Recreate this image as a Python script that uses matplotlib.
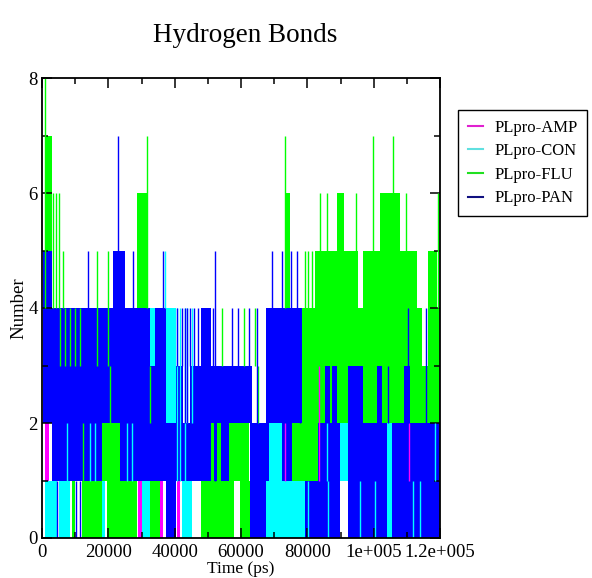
import matplotlib
matplotlib.use('Agg')
from matplotlib import pyplot as plt
from matplotlib.lines import Line2D
from matplotlib.ticker import MultipleLocator

plt.rcParams['font.family'] = ['Liberation Serif', 'DejaVu Serif']

# Bands where a trajectory flickers between two hydrogen-bond counts (time in ps)
# start, end, low, high
amp_start = [1000, 29000, 35600, 40700]
amp_end = [2000, 30000, 36600, 41700]
amp_low = [1, 0, 0, 0]
amp_high = [2, 1, 1, 1]

con_start = [1000, 5000, 18000, 30200, 32600, 37500, 42200, 67400, 68300, 78000, 89800, 104000]
con_end = [4400, 8400, 19000, 32600, 34100, 40500, 45200, 79400, 72400, 79400, 92200, 105500]
con_low = [0, 0, 0, 0, 3, 2, 0, 0, 1, 1, 1, 0]
con_high = [1, 1, 1, 1, 4, 4, 1, 1, 2, 2, 2, 2]

flu_start = [900, 28600, 9000, 12000, 19500, 32600, 18000, 48000, 59800, 50300, 52800, 56300,
             75400, 73300, 78400, 83300, 114600, 116400, 82300, 96800, 116400, 89000, 102000]
flu_end = [3000, 31600, 10000, 18000, 28500, 35600, 23500, 58000, 62700, 51800, 54300, 62300,
           78400, 74800, 83300, 114600, 116400, 120000, 95300, 113000, 119000, 91000, 108000]
flu_low = [4, 4, 0, 0, 0, 0, 1, 0, 0, 1, 1, 1, 1, 4, 1, 2, 2, 2, 4, 4, 4, 5, 5]
flu_high = [7, 6, 1, 1, 1, 1, 2, 1, 1, 2, 2, 2, 2, 6, 4, 4, 3, 4, 5, 5, 5, 6, 6]

pan_start = [300, 3000, 18000, 21400, 23500, 32600, 34100, 37500, 40500, 42600, 44600, 48000,
             51100, 51800, 54000, 56300, 62700, 62700, 67400, 68300, 72400, 75400, 79400, 83300,
             92200, 105500, 85300, 87300, 92400, 100900, 109000]
pan_end = [3000, 18000, 23500, 25000, 32600, 34100, 37500, 40500, 42600, 44600, 48000, 51100,
           54000, 52800, 56300, 62700, 67400, 63400, 68300, 72400, 75400, 78400, 83300, 89800,
           104000, 120000, 86800, 88800, 96900, 102400, 111000]
pan_low = [2, 1, 2, 2, 1, 1, 1, 0, 1, 1, 1, 1, 2, 1, 1, 2, 0, 2, 1, 2, 1, 2, 0, 0,
           0, 0, 2, 2, 2, 2, 2]
pan_high = [5, 4, 4, 5, 4, 3, 4, 2, 3, 2, 3, 4, 3, 2, 3, 3, 2, 3, 4, 4, 4, 4, 1, 2,
            2, 2, 3, 3, 3, 3, 3]

# Single excursions: time, low, high
amp_spike_t = [73400, 83500, 110600]
amp_spike_lo = [1, 1, 1]
amp_spike_hi = [2, 3, 2]

con_spike_t = [7400, 14400, 16000, 25500, 27000, 37000, 40700, 41700, 43200, 43700, 45200,
               80300, 85800, 86300, 95900, 100400, 112000, 114000, 118400]
con_spike_lo = [1, 1, 1, 1, 1, 4, 1, 1, 1, 2, 2, 0, 1, 0, 0, 0, 0, 0, 1]
con_spike_hi = [2, 2, 2, 2, 2, 5, 4, 4, 4, 4, 4, 1, 2, 1, 1, 1, 1, 1, 2]

flu_spike_t = [900, 3300, 4200, 5000, 6300, 5400, 6900, 8400, 9900, 11400, 12300, 16500, 20000,
               20500, 31600, 32500, 54200, 60800, 64300, 65200, 73300, 79400, 80200, 81300,
               83800, 86000, 94700, 99800, 105800, 109600, 119500]
flu_spike_lo = [4, 4, 4, 4, 4, 3, 3, 3, 3, 3, 1, 3, 3, 2, 4, 2, 3, 3, 3, 2, 4, 4, 4, 4,
                5, 5, 5, 5, 5, 5, 4]
flu_spike_hi = [8, 6, 6, 6, 5, 4, 4, 4, 4, 4, 2, 5, 5, 3, 7, 3, 4, 4, 4, 3, 7, 5, 5, 5,
                6, 6, 6, 7, 7, 6, 6]

pan_spike_t = [4400, 10400, 11400, 14000, 23000, 27400, 36500, 52300, 40600, 42100, 43000,
               43600, 44600, 45800, 47100, 51600, 57200, 59200, 62400, 64700, 69300, 72400,
               75000, 76900, 77900, 104400, 110500, 115800, 119900]
pan_spike_lo = [0, 0, 0, 4, 5, 4, 4, 1, 3, 3, 2, 2, 3, 3, 3, 3, 3, 3, 3, 2, 4, 4, 4, 4, 2,
                2, 2, 2, 1]
pan_spike_hi = [1, 1, 1, 5, 7, 5, 5, 5, 4, 4, 4, 4, 4, 4, 4, 4, 4, 4, 4, 4, 5, 5, 5, 5, 3,
                3, 4, 4, 3]

names = ['PLpro-AMP', 'PLpro-CON', 'PLpro-FLU', 'PLpro-PAN']
colors = ['#ff00ff', '#00ffff', '#00ff00', '#0000ff']
legend_colors = ['#e020d0', '#60e0e0', '#20e020', '#101080']

xtick_vals = [0, 20000, 40000, 60000, 80000, 100000, 120000]
xtick_labels = ['0', '20000', '40000', '60000', '80000', '1e+005', '1.2e+005']

bands = [(amp_start, amp_end, amp_low, amp_high),
         (con_start, con_end, con_low, con_high),
         (flu_start, flu_end, flu_low, flu_high),
         (pan_start, pan_end, pan_low, pan_high)]
spikes = [(amp_spike_t, amp_spike_lo, amp_spike_hi),
          (con_spike_t, con_spike_lo, con_spike_hi),
          (flu_spike_t, flu_spike_lo, flu_spike_hi),
          (pan_spike_t, pan_spike_lo, pan_spike_hi)]

fig = plt.figure(figsize=(5.92, 5.78), dpi=100)
ax = fig.add_axes([42 / 592, 40 / 578, 398 / 592, 460 / 578])

for (t0, t1, lo, hi), c in zip(bands, colors):
    widths = [b - a for a, b in zip(t0, t1)]
    heights = [b - a for a, b in zip(lo, hi)]
    ax.bar(t0, heights, width=widths, bottom=lo, align='edge', color=c, linewidth=0)

for (t, lo, hi), c in zip(spikes, colors):
    ax.vlines(t, lo, hi, colors=c, linewidth=1.0)

ax.set_xlim(0, 120000)
ax.set_ylim(0, 8)
ax.set_xticks(xtick_vals)
ax.set_xticklabels(xtick_labels)
ax.set_yticks([0, 2, 4, 6, 8])
ax.xaxis.set_minor_locator(MultipleLocator(10000))
ax.yaxis.set_minor_locator(MultipleLocator(1))
ax.tick_params(which='both', direction='in', top=True, right=True, labelsize=13.5, width=1.1)
ax.tick_params(which='major', length=7)
ax.tick_params(axis='x', which='major', pad=4)
ax.tick_params(axis='y', which='major', pad=3)
ax.tick_params(which='minor', length=4)
for s in ax.spines.values():
    s.set_linewidth(1.3)

ax.set_xlabel('Time (ps)', fontsize=12.5, labelpad=0)
ax.set_ylabel('Number', fontsize=13.5, labelpad=1)
fig.text(245 / 592, 1 - 36 / 578, 'Hydrogen Bonds', fontsize=19.5, ha='center', va='center')

handles = [Line2D([], [], color=c, linewidth=1.5) for c in legend_colors]
ax.legend(handles, names, loc='upper left', bbox_to_anchor=(458 / 592, 1 - 110 / 578),
          bbox_transform=fig.transFigure, fontsize=12, frameon=True, fancybox=False,
          edgecolor='black', framealpha=1, borderaxespad=0, handlelength=0.9,
          handletextpad=0.7, labelspacing=0.46, borderpad=0.57)

fig.savefig('out.png', dpi=100)
